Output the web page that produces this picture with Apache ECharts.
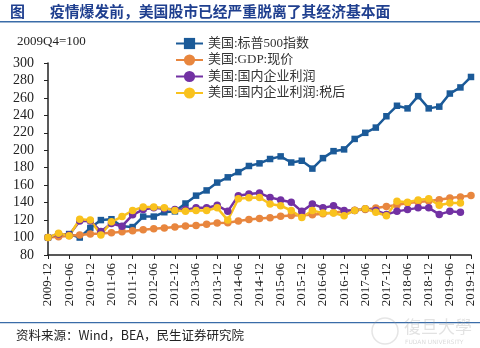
<!DOCTYPE html>
<html><head><meta charset="utf-8">
<script src="https://cdn.jsdelivr.net/npm/echarts@6/dist/echarts.min.js"></script>
<style>html,body{margin:0;padding:0;background:#fff}#c{width:480px;height:348px}</style>
</head><body><div id="c"></div>
<script>
const categories = ['2009-12','2010-03','2010-06','2010-09','2010-12','2011-03','2011-06','2011-09','2011-12','2012-03','2012-06','2012-09','2012-12','2013-03','2013-06','2013-09','2013-12','2014-03','2014-06','2014-09','2014-12','2015-03','2015-06','2015-09','2015-12','2016-03','2016-06','2016-09','2016-12','2017-03','2017-06','2017-09','2017-12','2018-03','2018-06','2018-09','2018-12','2019-03','2019-06','2019-09','2019-12'];
const yTicks = [80,100,120,140,160,180,200,220,240,260,280,300];
const sp500 = [100,103,104,100,111,120,121,113,112,124,124,129,130,139,148,154,163,169,175,182,185,190,193,186,188,179,191,199,201,213,220,226,239,251,248,262,248,250,265,272,284];
const gdp = [100,100.8,102,103,104,104.5,105.5,106.5,107.8,109,110,111,112,113.2,113.8,115.2,116.8,117,119,120.8,121.8,122.8,124.3,125.3,125.6,126.2,127.4,128.5,130,131.3,132.2,133.8,135.6,137.2,139.5,140.8,141.8,143.2,145.2,146.6,148.3];
const profit = [100,104,103,119,119,107,116,113,126,132,134,133,132,132,134,134,137,130,148,150,151,146,143,140.5,130,138.5,134,136.5,131,131,133,131,126.5,130,132,134,134,126.5,130,129,null];
const profitAfterTax = [100,105,102,121,120,103,118,124,131,135,135,134,131,130,131,131,134,120,144.5,145.5,146,138.5,136.5,131,123,131,128,128,125,131,133,129,125,141.5,140.5,143,144.5,137,139.5,139.5,null];
const seriesNames = ['美国:标普500指数','美国:GDP:现价','美国:国内企业利润','美国:国内企业利润:税后'];

const serif = '"Liberation Serif","Times New Roman","Noto Sans CJK SC",serif';
const chart = echarts.init(document.getElementById('c'), null, {renderer:'canvas'});
const mk = (name, data, color, symbol, size) => ({
  name, type:'line', data, symbol, symbolSize:size, showSymbol:true, showAllSymbol:true,
  lineStyle:{color, width:2.5}, itemStyle:{color, borderWidth:0},
  connectNulls:false, animation:false
});
chart.setOption({
  animation:false,
  backgroundColor:'#fff',
  graphic:[
    {type:'text', left:10, top:4, style:{text:'图', font:'bold 15px "Noto Sans CJK SC"', fill:'#1F3F8F'}},
    {type:'text', left:50, top:4, style:{text:'疫情爆发前，美国股市已经严重脱离了其经济基本面', font:'bold 14.8px "Noto Sans CJK SC"', fill:'#1F3F8F'}},
    {type:'rect', shape:{x:0,y:21,width:480,height:1.5}, style:{fill:'#3A6CA8'}},
    {type:'text', left:17, top:35, style:{text:'2009Q4=100', font:'13px '+serif, fill:'#222'}},
    {type:'rect', shape:{x:0,y:322,width:480,height:1.2}, style:{fill:'#3A6CA8'}},
    {type:'text', left:16, top:329, style:{text:'资料来源：Wind，BEA，民生证券研究院', font:'12.5px "Noto Sans CJK SC"', fill:'#222'}},
    {type:'circle', shape:{cx:385,cy:331,r:13}, style:{fill:'none', stroke:'rgba(150,150,150,0.25)', lineWidth:1.5}},
    {type:'text', left:404, top:318, style:{text:'復旦大學', font:'17px "Noto Sans CJK TC"', fill:'rgba(150,150,150,0.28)'}},
    {type:'text', left:405, top:339, style:{text:'FUDAN UNIVERSITY', font:'6px "DejaVu Sans"', fill:'rgba(150,150,150,0.35)'}}
  ],
  legend:{
    orient:'vertical', left:170, top:32, itemGap:3.5, itemWidth:27, itemHeight:14,
    textStyle:{fontSize:13, fontFamily:serif, color:'#333'},
    data:seriesNames
  },
  grid:{left:48, right:9, top:63, bottom:93, containLabel:false},
  xAxis:{
    type:'category', data:categories, boundaryGap:false,
    axisLine:{lineStyle:{color:'#222', width:1.5}},
    axisTick:{show:true, interval:1, length:4, lineStyle:{color:'#222'}},
    axisLabel:{interval:1, rotate:90, margin:8, fontSize:13, fontFamily:serif, color:'#222'}
  },
  yAxis:{
    type:'value', min:yTicks[0], max:yTicks[yTicks.length-1], interval:20,
    axisLine:{show:true, lineStyle:{color:'#222', width:1.5}},
    axisTick:{show:true, length:4, lineStyle:{color:'#222'}},
    splitLine:{show:false},
    axisLabel:{fontSize:14, fontFamily:serif, color:'#222', margin:14}
  },
  series:[
    mk(seriesNames[0], sp500, '#1B5A98', 'rect', 6.5),
    mk(seriesNames[1], gdp, '#E8863E', 'circle', 7.5),
    mk(seriesNames[2], profit, '#7231A3', 'circle', 7.5),
    mk(seriesNames[3], profitAfterTax, '#F9C21D', 'circle', 7.5)
  ]
});
</script></body></html>
